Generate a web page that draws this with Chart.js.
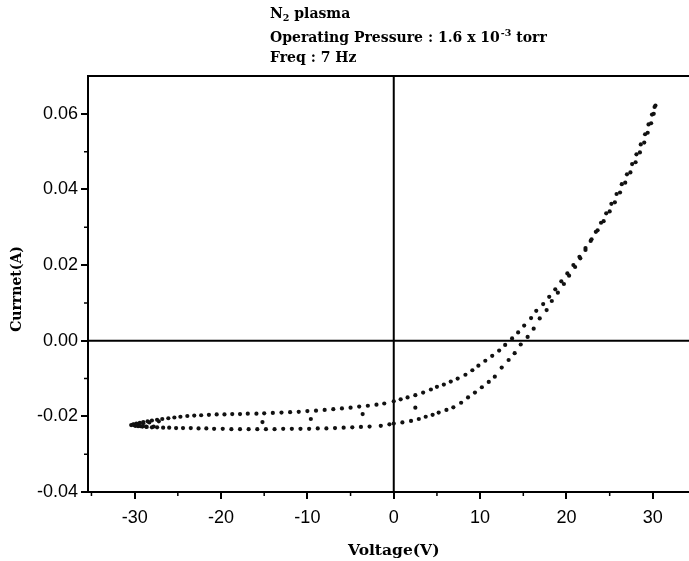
<!DOCTYPE html>
<html>
<head>
<meta charset="utf-8">
<script src="https://cdn.jsdelivr.net/npm/chart.js@4.4.1/dist/chart.umd.min.js"></script>
<style>
  html, body { margin: 0; padding: 0; background: #fff; overflow: hidden; width: 689px; height: 561px; }
  canvas { display: block; }
</style>
</head>
<body>
<!-- a little wider than the window: the plot frame runs off the right edge as in the scan -->
<canvas id="ivChart" width="694" height="561"></canvas>
<script>
// branch going up from -30 V (upper/left in the loop)
const upperV = [-30.2, -29.8, -29.4, -29.0, -28.5, -28.0, -27.4, -26.8, -26.1, -25.4, -24.7, -23.9, -23.1, -22.3, -21.4, -20.5, -19.6, -18.7, -17.8, -16.9, -15.9, -15.0, -14.0, -13.0, -12.0, -11.0, -10.0, -9.0, -8.0, -7.0, -6.0, -5.0, -4.0, -3.0, -2.0, -1.1, 0.0, 0.8, 1.6, 2.5, 3.4, 4.3, 5.0, 5.8, 6.6, 7.4, 8.3, 9.1, 9.8, 10.6, 11.4, 12.2, 12.9, 13.7, 14.4, 15.1, 15.9, 16.5, 17.3, 18.0, 18.7, 19.4, 20.1, 20.8, 21.5, 22.2, 22.9, 23.6, 24.3, 25.0, 25.6, 26.2, 26.8, 27.4, 28.0, 28.5, 29.0, 29.4, 29.8, 30.1, 30.3];
const upperI = [-0.0222, -0.0219, -0.0217, -0.0215, -0.0213, -0.0211, -0.0209, -0.0207, -0.0205, -0.0203, -0.0201, -0.0199, -0.0198, -0.0197, -0.0196, -0.0195, -0.0195, -0.0194, -0.0194, -0.0193, -0.0193, -0.0192, -0.0191, -0.0190, -0.0189, -0.0188, -0.0186, -0.0185, -0.0183, -0.0181, -0.0179, -0.0177, -0.0174, -0.0172, -0.0169, -0.0166, -0.0160, -0.0155, -0.0150, -0.0144, -0.0137, -0.0129, -0.0122, -0.0116, -0.0108, -0.0100, -0.0090, -0.0078, -0.0066, -0.0053, -0.0040, -0.0026, -0.0011, 0.0006, 0.0022, 0.0040, 0.0060, 0.0079, 0.0097, 0.0116, 0.0136, 0.0157, 0.0178, 0.0200, 0.0222, 0.0245, 0.0268, 0.0292, 0.0316, 0.0342, 0.0366, 0.0392, 0.0418, 0.0445, 0.0472, 0.0498, 0.0524, 0.0550, 0.0575, 0.0600, 0.0622];

// lower/right branch of the loop
const lowerV = [-30.0, -29.6, -29.1, -28.6, -28.0, -27.4, -26.7, -26.0, -25.2, -24.4, -23.5, -22.6, -21.7, -20.8, -19.8, -18.8, -17.8, -16.8, -15.8, -14.8, -13.8, -12.8, -11.8, -10.8, -9.8, -8.8, -7.8, -6.8, -5.8, -4.8, -3.8, -2.8, -1.5, -0.5, 0.0, 1.0, 2.0, 2.9, 3.7, 4.5, 5.2, 6.1, 6.9, 7.8, 8.6, 9.4, 10.2, 11.0, 11.7, 12.5, 13.3, 14.0, 14.7, 15.5, 16.2, 16.9, 17.7, 18.3, 19.0, 19.7, 20.3, 21.0, 21.6, 22.2, 22.8, 23.4, 24.0, 24.6, 25.2, 25.8, 26.4, 27.0, 27.6, 28.1, 28.6, 29.1, 29.5, 29.9, 30.2];
const lowerI = [-0.0224, -0.0226, -0.0227, -0.0228, -0.0229, -0.0229, -0.0230, -0.0230, -0.0231, -0.0231, -0.0231, -0.0232, -0.0232, -0.0233, -0.0233, -0.0234, -0.0234, -0.0234, -0.0234, -0.0234, -0.0234, -0.0233, -0.0233, -0.0233, -0.0233, -0.0232, -0.0232, -0.0231, -0.0230, -0.0229, -0.0228, -0.0227, -0.0225, -0.0221, -0.0219, -0.0216, -0.0212, -0.0207, -0.0201, -0.0196, -0.0190, -0.0183, -0.0176, -0.0164, -0.0150, -0.0137, -0.0123, -0.0109, -0.0095, -0.0071, -0.0051, -0.0033, -0.0010, 0.0010, 0.0032, 0.0059, 0.0081, 0.0105, 0.0127, 0.0150, 0.0172, 0.0195, 0.0218, 0.0240, 0.0264, 0.0288, 0.0312, 0.0337, 0.0362, 0.0388, 0.0414, 0.0440, 0.0467, 0.0493, 0.0519, 0.0546, 0.0572, 0.0598, 0.0618];

// the dense cluster at the -30 V turning point
const tipV = [-30.4, -30.1, -29.9, -29.6, -29.3, -29.0, -28.7, -28.3, -27.8, -27.2];
const tipI = [-0.0223, -0.0221, -0.0225, -0.0220, -0.0226, -0.0218, -0.0227, -0.0216, -0.0227, -0.0213];

// odd points lying between the two branches
const strayV = [-15.2, -9.6, -3.6, 2.5];
const strayI = [-0.0215, -0.0207, -0.0194, -0.0177];

const xTicks = [-30, -20, -10, 0, 10, 20, 30];
const xMinor = [-35, -25, -15, -5, 5, 15, 25];
const yTicks = [-0.04, -0.02, 0.00, 0.02, 0.04, 0.06];
const yMinor = [-0.03, -0.01, 0.01, 0.03, 0.05];

function toPoints(xs, ys) {
  return xs.map((v, i) => ({ x: v, y: ys[i] }));
}

const serif = '"DejaVu Serif", "Liberation Serif", serif';
const sans = '"Liberation Sans", Arial, sans-serif';

const framePlugin = {
  id: 'frame',
  beforeDatasetsDraw(chart) {
    const { ctx, chartArea: a, scales: { x, y } } = chart;
    ctx.save();
    ctx.strokeStyle = '#000';
    ctx.lineWidth = 2;
    ctx.beginPath();
    ctx.moveTo(a.left, a.top);
    ctx.lineTo(a.right, a.top);
    const x0 = x.getPixelForValue(0);
    const y0 = y.getPixelForValue(0);
    ctx.moveTo(x0, a.top);
    ctx.lineTo(x0, a.bottom);
    ctx.moveTo(a.left, y0);
    ctx.lineTo(a.right, y0);
    ctx.stroke();

    // minor ticks
    ctx.lineWidth = 1.5;
    ctx.beginPath();
    xMinor.forEach(v => {
      const p = x.getPixelForValue(v);
      ctx.moveTo(p, a.bottom);
      ctx.lineTo(p, a.bottom + 4);
    });
    yMinor.forEach(v => {
      const p = y.getPixelForValue(v);
      ctx.moveTo(a.left, p);
      ctx.lineTo(a.left - 4, p);
    });
    ctx.stroke();
    ctx.restore();
  },
  afterDraw(chart) {
    const ctx = chart.ctx;
    const x0 = chart.scales.x.getPixelForValue(0);
    ctx.save();
    ctx.fillStyle = '#000';
    ctx.textBaseline = 'alphabetic';

    // axis titles
    ctx.textAlign = 'center';
    ctx.font = 'bold 15.5px ' + serif;
    ctx.fillText('Voltage(V)', x0, 555);

    ctx.save();
    ctx.translate(21, 289);
    ctx.rotate(-Math.PI / 2);
    ctx.font = 'bold 14px ' + serif;
    ctx.fillText('Currnet(A)', 0, 0);
    ctx.restore();

    ctx.textAlign = 'left';
    const big = 'bold 14px ' + serif;
    const small = 'bold 9.5px ' + serif;
    const left = 270;
    let x = left;

    // N2 plasma
    ctx.font = big;
    ctx.fillText('N', x, 18);
    x += ctx.measureText('N').width;
    ctx.font = small;
    ctx.fillText('2', x, 21);
    x += ctx.measureText('2').width;
    ctx.font = big;
    ctx.fillText(' plasma', x, 18);

    // Operating Pressure : 1.6 x 10^-3 torr
    x = left;
    ctx.font = big;
    const s = 'Operating Pressure : 1.6 x 10';
    ctx.fillText(s, x, 42);
    x += ctx.measureText(s).width;
    ctx.font = small;
    ctx.fillText('-3', x + 1, 36);
    x += ctx.measureText('-3').width + 1;
    ctx.font = big;
    ctx.fillText(' torr', x, 42);

    ctx.fillText('Freq : 7 Hz', left, 62);
    ctx.restore();
  }
};

function createChart() {
  const ctx = document.getElementById('ivChart');
  const dot = { pointRadius: 2.1, pointBackgroundColor: '#111', pointBorderWidth: 0 };
  new Chart(ctx, {
    type: 'scatter',
    data: {
      datasets: [
        { data: toPoints(upperV, upperI), ...dot },
        { data: toPoints(lowerV, lowerI), ...dot },
        { data: toPoints(tipV, tipI), ...dot },
        { data: toPoints(strayV, strayI), ...dot }
      ]
    },
    options: {
      responsive: false,
      animation: false,
      layout: { padding: { top: 76, right: 0, left: 0, bottom: 0 } },
      plugins: {
        legend: { display: false },
        tooltip: { enabled: false }
      },
      scales: {
        x: {
          type: 'linear',
          min: -35.4,
          max: 34.3,
          afterFit(scale) { scale.height = 69; },
          afterBuildTicks(scale) { scale.ticks = xTicks.map(v => ({ value: v })); },
          grid: { drawOnChartArea: false, drawTicks: true, tickLength: 7, color: '#000', lineWidth: 2 },
          border: { display: true, color: '#000', width: 2 },
          ticks: {
            color: '#000',
            padding: 8,
            maxRotation: 0,
            font: { family: sans, size: 18 },
            callback: v => String(v)
          }
        },
        y: {
          type: 'linear',
          min: -0.04,
          max: 0.07,
          afterFit(scale) { scale.width = 88; },
          afterBuildTicks(scale) { scale.ticks = yTicks.map(v => ({ value: v })); },
          grid: { drawOnChartArea: false, drawTicks: true, tickLength: 7, color: '#000', lineWidth: 2 },
          border: { display: true, color: '#000', width: 2 },
          ticks: {
            color: '#000',
            padding: 3,
            font: { family: sans, size: 18 },
            callback: v => Number(v).toFixed(2)
          }
        }
      }
    },
    plugins: [framePlugin]
  });
}

createChart();
</script>
</body>
</html>
